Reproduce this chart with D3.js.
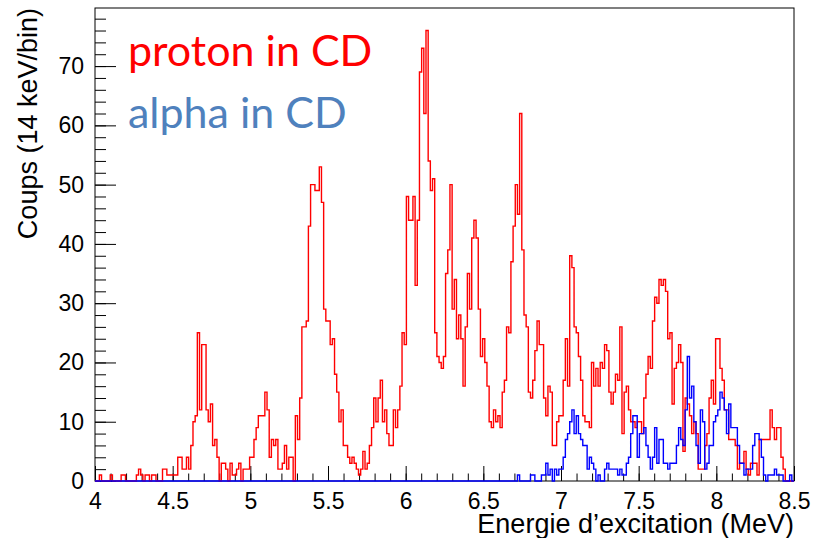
<!DOCTYPE html>
<meta charset="utf-8">
<style>
  body { margin: 0; background: #fff; }
  svg { display: block; }
  .tick text { font-family: "Liberation Sans", Arial, sans-serif; font-size: 23px; fill: #000; }
  .tick line, .domain { stroke: #000; stroke-width: 1px; }
  .title { font-family: "Liberation Sans", Arial, sans-serif; font-size: 27px; fill: #000; }
  .legend { font-family: Lato, "Open Sans", sans-serif; font-size: 43px; }
</style>
<div id="chart"></div>
<script src="https://d3js.org/d3.v7.min.js"></script>
<script>
  var width = 813, height = 538;
  var margin = {left: 95, right: 19, top: 8, bottom: 57};

  // energy range of the histograms, 321 bins (14 keV/bin)
  var eMin = 4, eMax = 8.5, nBins = 321;

  // counts per bin, "proton in CD"
  var protonCounts = [
    0,0,1,0,0,0,0,1,0,0,0,0,1,1,0,0,0,0,0,1,
    2,1,0,1,1,0,1,1,0,0,0,2,2,1,1,1,1,1,4,4,
    2,2,4,2,6,10,11,25,12,23,23,12,10,13,6,7,4,0,3,3,
    2,0,3,1,1,2,3,0,2,2,2,4,4,7,9,11,11,11,15,12,
    4,7,6,7,2,2,3,6,2,4,4,0,11,7,14,26,26,27,43,50,
    50,49,49,53,47,29,27,27,23,24,18,15,10,12,6,6,4,3,4,3,
    2,1,2,5,2,3,6,9,14,10,14,17,10,12,8,6,6,12,9,12,
    16,25,23,48,44,44,48,33,44,69,73,62,76,54,49,51,25,21,20,19,
    21,35,39,50,29,34,24,28,24,16,26,35,29,41,44,41,29,21,24,20,
    16,10,9,12,10,11,9,15,17,26,25,37,43,50,45,62,39,28,26,15,
    14,17,22,27,23,23,14,11,16,15,6,6,10,11,11,17,24,16,38,36,
    26,25,21,17,11,10,10,9,20,16,19,16,20,19,23,22,15,13,15,18,
    17,26,8,15,16,12,10,10,9,10,10,8,14,18,21,19,27,31,30,34,
    33,34,32,24,25,13,19,20,23,20,5,14,13,11,8,10,8,2,2,2,
    6,8,14,17,13,24,24,19,17,12,12,7,7,7,6,2,3,3,5,2,
    1,3,3,3,1,7,7,7,7,7,12,9,7,9,9,4,2,0,0,0,0
  ];

  // counts per bin, "alpha in CD"
  var alphaCounts = [
    0,0,0,0,0,0,0,0,0,0,0,0,0,0,0,0,0,0,0,0,
    0,0,0,0,0,0,0,0,0,0,0,0,0,0,0,0,0,0,0,0,
    0,0,0,0,0,0,0,0,0,0,0,0,0,0,0,0,0,0,0,0,
    0,0,0,0,0,0,0,0,0,0,0,0,0,0,0,0,0,0,0,0,
    0,0,0,0,0,0,0,0,0,0,0,0,0,0,0,0,0,0,0,0,
    0,0,0,0,0,0,0,0,0,0,0,0,0,0,0,0,0,0,0,0,
    0,0,0,0,0,0,0,0,0,0,0,0,0,0,0,0,0,0,0,0,
    0,0,0,0,0,0,0,0,0,0,0,0,0,0,0,0,0,0,0,0,
    0,0,0,0,0,0,0,0,0,0,0,0,0,0,0,0,0,0,0,0,
    0,0,0,0,0,0,0,0,0,0,0,0,0,0,1,0,0,0,0,0,
    1,1,0,0,0,1,1,3,1,2,0,2,1,2,2,4,7,8,10,12,
    8,11,8,7,6,6,2,4,3,2,0,1,0,0,2,3,2,2,2,2,
    1,2,1,1,3,4,8,11,11,4,8,8,9,6,4,2,4,9,3,7,
    7,3,3,2,3,3,3,6,9,7,6,12,21,14,16,10,6,3,12,10,
    2,3,6,6,10,11,12,15,14,12,8,13,9,9,9,6,3,3,1,2,
    2,2,6,8,8,7,4,1,0,1,1,1,2,1,1,1,0,0,0,1,0
  ];

  var xMajor = [4, 4.5, 5, 5.5, 6, 6.5, 7, 7.5, 8, 8.5];
  var xMinor = d3.range(40, 86).map(function(d) { return d / 10; });
  var yMajor = [0, 10, 20, 30, 40, 50, 60, 70];
  var yMinor = d3.range(0, 80, 2);
  var yMax = 79.8;

  var xTitle = "Energie d\u2019excitation (MeV)";
  var yTitle = "Coups (14 keV/bin)";
  var legendItems = [
    {label: "proton in CD", color: "#ff0000"},
    {label: "alpha in CD", color: "#4f81bd"}
  ];

  var svg = d3.select("#chart").append("svg")
    .attr("width", width)
    .attr("height", height);

  var x = d3.scaleLinear().domain([eMin, eMax]).range([margin.left, width - margin.right]);
  var y = d3.scaleLinear().domain([0, yMax]).range([height - margin.bottom, margin.top]);

  var x0 = x.range()[0], x1 = x.range()[1], y0 = y.range()[0], y1 = y.range()[1];

  // frame
  svg.append("rect")
    .attr("x", x0).attr("y", y1)
    .attr("width", x1 - x0).attr("height", y0 - y1)
    .attr("fill", "none").attr("stroke", "#000").attr("stroke-width", 1);

  // minor ticks
  svg.append("g")
    .attr("transform", "translate(0," + y0 + ")")
    .call(d3.axisBottom(x).tickValues(xMinor).tickSize(-7.5).tickSizeOuter(0).tickFormat(""));
  svg.append("g")
    .attr("transform", "translate(" + x0 + ",0)")
    .call(d3.axisLeft(y).tickValues(yMinor).tickSize(-11).tickSizeOuter(0).tickFormat(""));

  // major ticks and labels
  svg.append("g")
    .attr("transform", "translate(0," + y0 + ")")
    .call(d3.axisBottom(x).tickValues(xMajor).tickSize(-15).tickSizeOuter(0).tickPadding(12)
      .tickFormat(function(d) { return String(d); }));
  svg.append("g")
    .attr("transform", "translate(" + x0 + ",0)")
    .call(d3.axisLeft(y).tickValues(yMajor).tickSize(-21).tickSizeOuter(0).tickPadding(11)
      .tickFormat(function(d) { return String(d); }));

  svg.selectAll(".domain").remove();

  // histograms
  var binW = (eMax - eMin) / nBins;

  function histPoints(counts) {
    var pts = [[eMin, 0]];
    counts.forEach(function(c, i) { pts.push([eMin + i * binW, c]); });
    pts.push([eMin + counts.length * binW, counts[counts.length - 1]]);
    pts.push([eMin + counts.length * binW, 0]);
    return pts;
  }

  var line = d3.line()
    .x(function(d) { return x(d[0]); })
    .y(function(d) { return y(d[1]); })
    .curve(d3.curveStepAfter);

  svg.append("clipPath").attr("id", "frame-clip")
    .append("rect")
    .attr("x", x0).attr("y", y1 - 2)
    .attr("width", x1 - x0).attr("height", y0 - y1 + 4);

  var hists = svg.append("g").attr("clip-path", "url(#frame-clip)");

  hists.append("path")
    .attr("d", line(histPoints(protonCounts)))
    .attr("fill", "none")
    .attr("stroke", "#ff0000")
    .attr("stroke-width", 1.4);

  hists.append("path")
    .attr("d", line(histPoints(alphaCounts)))
    .attr("fill", "none")
    .attr("stroke", "#0000ff")
    .attr("stroke-width", 1.4);

  // axis titles
  svg.append("text")
    .attr("class", "title")
    .attr("x", x1)
    .attr("y", 533)
    .attr("text-anchor", "end")
    .text(xTitle);

  svg.append("text")
    .attr("class", "title")
    .attr("transform", "translate(37,8) rotate(-90)")
    .attr("text-anchor", "end")
    .text(yTitle);

  // legend
  svg.selectAll(".legend")
    .data(legendItems)
    .enter()
    .append("text")
    .attr("class", "legend")
    .attr("x", 128)
    .attr("y", function(d, i) { return 66 + i * 62; })
    .attr("fill", function(d) { return d.color; })
    .text(function(d) { return d.label; });
</script>
